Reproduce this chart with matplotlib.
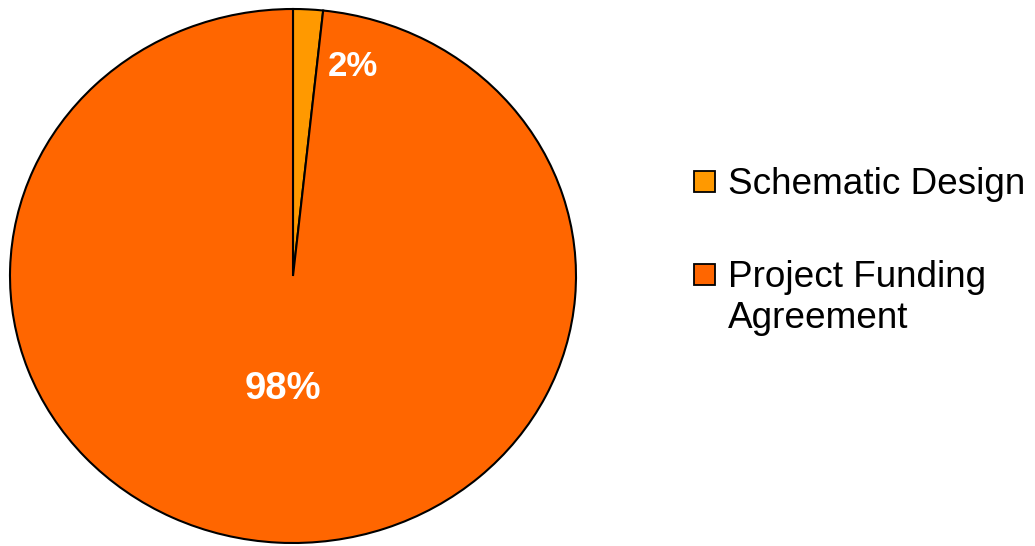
import matplotlib
matplotlib.use("Agg")
import matplotlib.pyplot as plt
from matplotlib.patches import Rectangle

categories = ["Schematic Design", "Project Funding Agreement"]
legend_labels = ["Schematic Design", "Project Funding\nAgreement"]
values = [1.7, 98.3]
colors = ["#FF9900", "#FF6600"]

plt.rcParams['font.family'] = ['Liberation Sans', 'DejaVu Sans']

W, H = 1035, 546
fig = plt.figure(figsize=(W / 100, H / 100), dpi=100)

# pie axes (slightly elliptical, as in reference)
cx0, cx1 = 10, 576
cy0, cy1 = 9, 543
ax = fig.add_axes([cx0 / W, 1 - cy1 / H, (cx1 - cx0) / W, (cy1 - cy0) / H])
wedges, texts, autotexts = ax.pie(
    values, colors=colors, startangle=90, counterclock=False,
    autopct=lambda p: f"{p:.0f}%", pctdistance=0.43,
    wedgeprops=dict(edgecolor="black", linewidth=1.5),
    textprops=dict(color="white", fontweight="bold", fontsize=27.5),
)
ax.set_aspect('auto')
ax.set_xlim(-1, 1)
ax.set_ylim(-1, 1)
autotexts[0].set_position((0.21, 0.785))
autotexts[0].set_fontsize(25)
autotexts[1].set_position((-0.035, -0.425))

# legend overlay
lax = fig.add_axes([0, 0, 1, 1])
lax.set_xlim(0, W)
lax.set_ylim(H, 0)
lax.axis('off')
sq_y = [171, 264]
txt_y = [194, 287]
line_step = 41
for lbl, col, sy, ty in zip(legend_labels, colors, sq_y, txt_y):
    lax.add_patch(Rectangle((694, sy), 21, 21, facecolor=col, edgecolor="black", linewidth=1.3))
    for i, line in enumerate(lbl.split("\n")):
        lax.text(728, ty + i * line_step, line, fontsize=26.6, color="black",
                 va="baseline", ha="left")

fig.savefig("out.png", dpi=100)
